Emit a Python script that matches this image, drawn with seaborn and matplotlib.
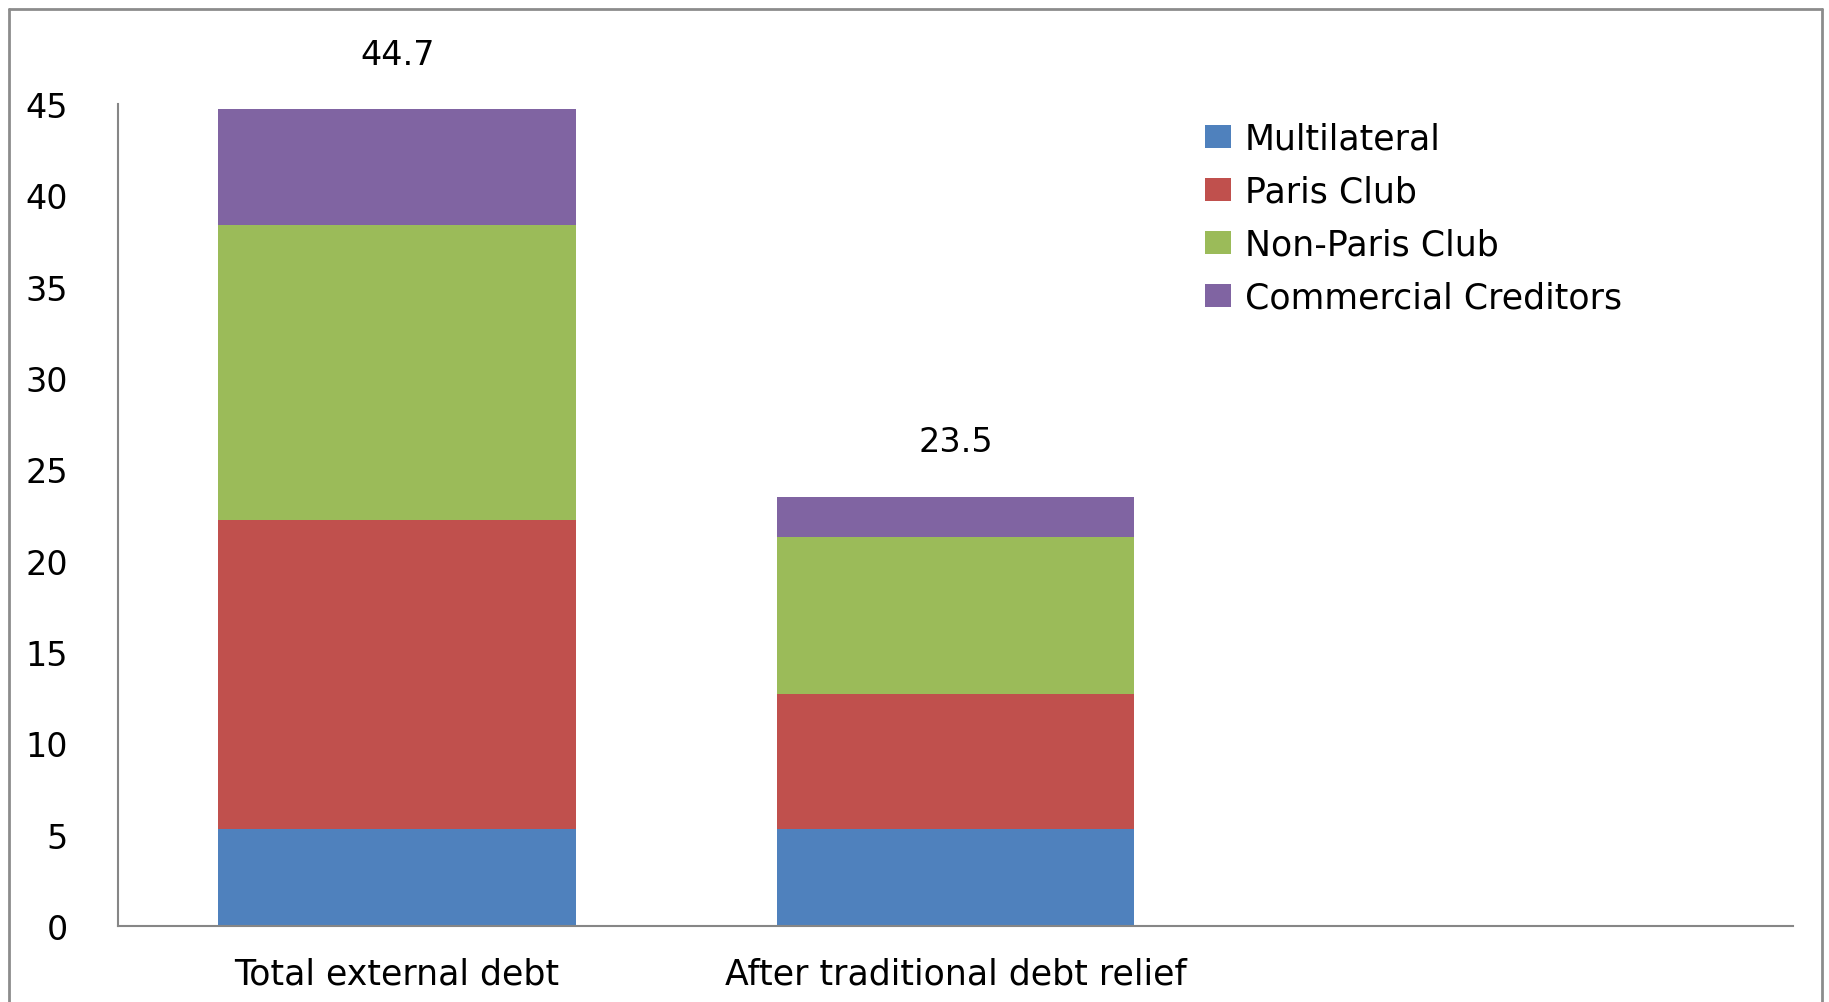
import pandas as pd
import seaborn as sns
from matplotlib import pyplot as plt
from matplotlib.patches import Patch
from matplotlib.lines import Line2D

# data
categories = ["Total external debt", "After traditional debt relief"]
multilateral = [5.3, 5.3]
paris_club = [16.9, 7.4]
non_paris_club = [16.2, 8.6]
commercial = [6.3, 2.2]
totals_text = ["44.7", "23.5"]

series_names = ["Multilateral", "Paris Club", "Non-Paris Club", "Commercial Creditors"]
series_values = [multilateral, paris_club, non_paris_club, commercial]
colors = ["#4F81BD", "#C0504D", "#9BBB59", "#8064A2"]

sns.set_style("white")
plt.rcParams["font.family"] = ["DejaVu Sans"]
plt.rcParams["text.color"] = "black"
plt.rcParams["xtick.color"] = "black"
plt.rcParams["ytick.color"] = "black"

fig = plt.figure(figsize=(18.29, 10.03), dpi=100)
ax = fig.add_axes([0.0645, 0.0758, 0.9158, 0.8195])

# stacked bars: draw cumulative sums from the top down
cum = []
running = [0.0] * len(categories)
for vals in series_values:
    running = [r + v for r, v in zip(running, vals)]
    cum.append(list(running))

for name, c, color in reversed(list(zip(series_names, cum, colors))):
    df = pd.DataFrame({"category": categories, "value": c})
    sns.barplot(data=df, x="category", y="value", color=color, width=0.64,
                saturation=1, linewidth=0, ax=ax, order=categories)

for i, t in enumerate(totals_text):
    ax.text(i, cum[-1][i] + 3.0, t, ha="center", va="center", fontsize=24, color="black")

ax.set_xlim(-0.5, 2.5)
ax.set_ylim(0, 45)
ax.set_yticks(range(0, 46, 5))
ax.set_xlabel("")
ax.set_ylabel("")
ax.tick_params(axis="y", length=0, pad=36, labelsize=24, labelcolor="black")
ax.tick_params(axis="x", length=0, pad=22, labelsize=25, labelcolor="black")
for s in ["top", "right"]:
    ax.spines[s].set_visible(False)
for s in ["left", "bottom"]:
    ax.spines[s].set_color("#868686")
    ax.spines[s].set_linewidth(1.5)

handles = [Patch(facecolor=c, edgecolor="none") for c in colors]
leg = fig.legend(handles, series_names, loc="upper left",
                 bbox_to_anchor=(1205 / 1829, 0.878), bbox_transform=fig.transFigure,
                 frameon=False, fontsize=25, handlelength=0.75, handleheight=0.65,
                 handletextpad=0.4, labelspacing=0.55, borderpad=0, borderaxespad=0)
for txt in leg.get_texts():
    txt.set_color("black")

# outer chart frame (bottom edge falls outside the image)
frame_kw = dict(color="#8c8c8c", linewidth=2, transform=fig.transFigure)
fig.add_artist(Line2D([0.005, 0.005], [0, 0.99], **frame_kw))
fig.add_artist(Line2D([0.005, 0.996], [0.99, 0.99], **frame_kw))
fig.add_artist(Line2D([0.996, 0.996], [0, 0.99], **frame_kw))

fig.savefig("out.png", dpi=100)
